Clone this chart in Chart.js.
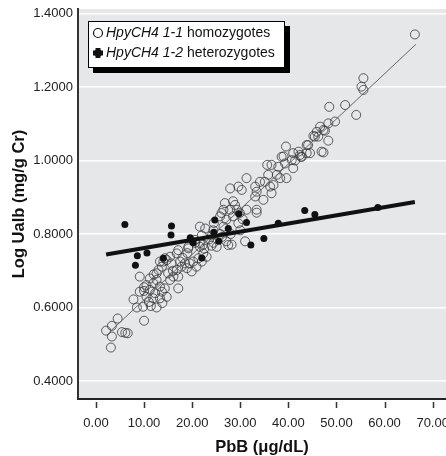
<!DOCTYPE html>
<html><head><meta charset="utf-8">
<script src="https://cdn.jsdelivr.net/npm/chart.js@4.4.1/dist/chart.umd.min.js"></script>
<style>html,body{margin:0;padding:0;background:#fff;}canvas{display:block;}</style>
</head><body>
<canvas id="c" width="446" height="456"></canvas>
<script>
// ---- data ----
const xTicks = [0, 10, 20, 30, 40, 50, 60, 70];
const yTicks = [0.4, 0.6, 0.8, 1.0, 1.2, 1.4];
const xTitle = "PbB (\u03bcg/dL)";
const yTitle = "Log Ualb (mg/g Cr)";
const legendItalic = ["HpyCH4 1-1", "HpyCH4 1-2"];
const legendPlain = [" homozygotes", " heterozygotes"];

// HpyCH4 1-1 homozygotes (open circles)
const homX = [2.1,3.3,3.1,3.3,4.5,5.4,6.1,6.6,10.0,9.8,11.4,12.6,7.8,9.1,10.5,11.9,13.3,14.7,10.0,11.2,12.3,13.7,10.5,11.9,13.3,14.3,11.2,12.6,9.1,12.6,13.0,13.7,14.0,15.0,15.4,16.1,17.1,17.1,16.8,17.8,15.7,14.7,16.8,17.1,15.4,14.3,19.2,18.5,19.5,18.9,20.2,20.9,19.9,21.3,22.0,20.6,21.6,22.3,23.0,13.3,12.0,10.0,8.5,11.0,13.8,16.0,18.0,19.0,22.5,24.0,17.5,
  21.6,22.7,24.4,26.5,29.6,22.0,24.1,26.2,20.6,22.3,24.4,27.1,28.2,19.2,21.6,25.1,27.5,25.8,27.1,28.5,26.5,27.9,29.3,29.9,31.3,33.4,26.8,28.5,28.9,33.1,34.8,36.5,27.9,29.6,30.3,31.3,33.1,33.4,34.1,35.1,36.2,36.9,35.6,36.5,35.8,37.6,38.3,39.3,39.6,41.0,37.9,38.6,39.5,41.0,40.7,42.6,42.1,44.1,43.8,45.9,45.5,26.1,33.4,24.5,30.5,23.5,25.8,28.0,30.0,31.0,
  66.3,55.6,55.2,55.6,51.8,48.5,54.1,49.7,48.3,46.6,47.3,47.6,45.2,46.2,48.3,43.8,47.3,44.5,42.4,42.8,46.9,41.4,39.0];
const homY = [0.537,0.521,0.491,0.550,0.570,0.533,0.531,0.530,0.564,0.602,0.604,0.600,0.622,0.643,0.629,0.625,0.625,0.629,0.645,0.648,0.639,0.643,0.661,0.666,0.657,0.652,0.679,0.675,0.684,0.693,0.702,0.711,0.725,0.693,0.675,0.684,0.684,0.652,0.702,0.711,0.720,0.729,0.747,0.756,0.738,0.734,0.761,0.720,0.720,0.707,0.725,0.711,0.698,0.734,0.725,0.784,0.775,0.747,0.738,0.725,0.690,0.655,0.600,0.615,0.612,0.700,0.735,0.748,0.760,0.768,0.725,
  0.820,0.815,0.810,0.820,0.829,0.796,0.796,0.792,0.776,0.771,0.776,0.780,0.771,0.765,0.765,0.765,0.770,0.848,0.839,0.848,0.866,0.866,0.866,0.857,0.866,0.866,0.884,0.889,0.879,0.902,0.893,0.911,0.924,0.929,0.920,0.952,0.929,0.915,0.942,0.942,0.929,0.933,0.988,0.988,0.961,0.961,0.952,0.992,0.952,0.979,0.983,1.010,1.038,1.020,1.001,1.010,1.024,1.042,1.020,1.078,1.065,0.857,0.858,0.830,0.840,0.785,0.800,0.800,0.810,0.780,
  1.343,1.224,1.201,1.192,1.151,1.146,1.124,1.106,1.101,1.092,1.083,1.081,1.067,1.065,1.054,1.042,1.022,1.020,1.015,1.010,1.024,1.000,1.011];

// HpyCH4 1-2 heterozygotes (filled)
const hetX = [6.0,8.6,8.2,10.6,14.0,15.7,15.6,19.6,20.0,20.2,22.0,24.7,24.5,25.5,27.5,29.7,31.3,32.2,34.9,37.9,43.4,45.5,58.6];
const hetY = [0.826,0.741,0.715,0.748,0.734,0.822,0.797,0.790,0.782,0.776,0.735,0.838,0.805,0.780,0.815,0.855,0.831,0.770,0.788,0.829,0.864,0.853,0.872];

// fitted lines (end points)
const homFitX = [2.9, 66.5], homFitY = [0.534, 1.316];
const hetFitX = [2.1, 66.3], hetFitY = [0.744, 0.887];

const toPts = (xs, ys) => xs.map((x, i) => ({x: x, y: ys[i]}));

const SANS = "'Liberation Sans',Arial,'DejaVu Sans',sans-serif";

const bgPlugin = {
  id: 'bg',
  beforeDraw(chart) {
    const a = chart.chartArea, ctx = chart.ctx;
    ctx.save();
    ctx.fillStyle = '#e6e7e9';
    ctx.fillRect(a.left, a.top, a.right - a.left, a.bottom - a.top);
    ctx.restore();
  }
};

const tickPlugin = {
  id: 'xticks',
  afterDraw(chart) {
    const xs = chart.scales.x, ctx = chart.ctx, b = chart.chartArea.bottom;
    ctx.save();
    ctx.strokeStyle = '#333';
    ctx.lineWidth = 1.5;
    xTicks.forEach(v => {
      const px = Math.round(xs.getPixelForValue(v)) + 0.5;
      ctx.beginPath(); ctx.moveTo(px, b + 3); ctx.lineTo(px, b + 9); ctx.stroke();
    });
    ctx.restore();
  }
};

const legendPlugin = {
  id: 'boxlegend',
  afterDraw(chart) {
    const ctx = chart.ctx;
    const L = 88, T = 21, W = 197, H = 47;
    ctx.save();
    ctx.fillStyle = '#000';
    ctx.fillRect(L + 5, T + 5, W, H);
    ctx.fillStyle = '#fff';
    ctx.fillRect(L, T, W, H);
    ctx.strokeStyle = '#000';
    ctx.lineWidth = 1;
    ctx.strokeRect(L + 0.5, T + 0.5, W - 1, H - 1);
    const rows = [33, 53];
    ctx.textBaseline = 'middle';
    ctx.fillStyle = '#111';
    for (let i = 0; i < 2; i++) {
      const y = rows[i];
      if (i === 0) {
        ctx.beginPath(); ctx.arc(98, y, 4.5, 0, Math.PI * 2);
        ctx.lineWidth = 1.2; ctx.strokeStyle = '#111'; ctx.stroke();
      } else {
        ctx.beginPath();
        ctx.fillRect(95.5, y - 5, 5, 10);
        ctx.fillRect(93, y - 2.5, 10, 5);
        ctx.arc(98, y, 3.8, 0, Math.PI * 2); ctx.fill();
      }
      ctx.font = 'italic 14px ' + SANS;
      ctx.fillText(legendItalic[i], 106, y);
      const w = ctx.measureText(legendItalic[i]).width;
      ctx.font = '14px ' + SANS;
      ctx.fillText(legendPlain[i], 106 + w, y);
    }
    ctx.restore();
  }
};

new Chart(document.getElementById('c'), {
  type: 'scatter',
  data: {
    datasets: [
      { label: 'het fit', data: toPts(hetFitX, hetFitY), showLine: true, borderColor: '#111', borderWidth: 4, pointRadius: 0, fill: false },
      { label: 'HpyCH4 1-2 heterozygotes', data: toPts(hetX, hetY), pointRadius: 3.5, pointBackgroundColor: '#111', pointBorderColor: '#111', pointBorderWidth: 0 },
      { label: 'hom fit', data: toPts(homFitX, homFitY), showLine: true, borderColor: '#666', borderWidth: 1, pointRadius: 0, fill: false },
      { label: 'HpyCH4 1-1 homozygotes', data: toPts(homX, homY), pointRadius: 4.5, pointBackgroundColor: 'rgba(0,0,0,0)', pointBorderColor: 'rgba(55,55,55,0.8)', pointBorderWidth: 1 }
    ]
  },
  options: {
    responsive: false,
    animation: false,
    layout: { autoPadding: false, padding: { top: 9, right: 0, bottom: 0, left: 0 } },
    plugins: { legend: { display: false }, tooltip: { enabled: false } },
    scales: {
      x: {
        type: 'linear', min: -3.74, max: 72.77,
        afterBuildTicks: s => { s.ticks = xTicks.map(v => ({ value: v })); },
        afterFit: s => { s.height = 57; s.paddingLeft = 0; s.paddingRight = 0; },
        grid: { display: false, drawTicks: false },
        border: { display: true, color: '#222', width: 2 },
        ticks: { padding: 17, color: '#222', font: { family: SANS, size: 13 }, maxRotation: 0, callback: v => Number(v).toFixed(2) },
        title: { display: true, text: xTitle, color: '#111', font: { family: SANS, size: 16.5, weight: 'bold' }, padding: { top: 0, bottom: -1 } }
      },
      y: {
        type: 'linear', min: 0.351, max: 1.4122,
        afterBuildTicks: s => { s.ticks = yTicks.map(v => ({ value: v })); },
        afterFit: s => { s.width = 78; s.paddingTop = 0; s.paddingBottom = 0; },
        grid: { color: '#ffffff', lineWidth: 1.5, drawTicks: false },
        border: { display: true, color: '#333', width: 2 },
        ticks: { padding: 5, color: '#222', font: { family: SANS, size: 13 }, callback: v => Number(v).toFixed(4) },
        title: { display: true, text: yTitle, color: '#111', font: { family: SANS, size: 16.5, weight: 'bold' }, padding: { top: 10, bottom: 0 } }
      }
    }
  },
  plugins: [bgPlugin, tickPlugin, legendPlugin]
});
</script>
</body></html>
